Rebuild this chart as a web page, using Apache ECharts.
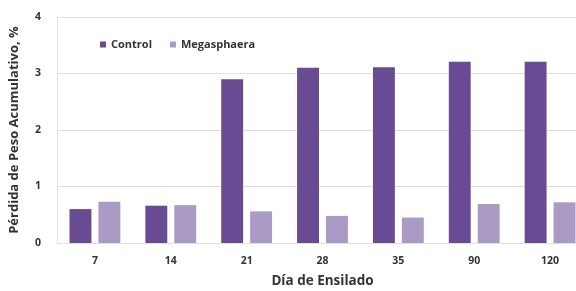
<!DOCTYPE html>
<html>
<head>
<meta charset="utf-8">
<script src="https://cdn.jsdelivr.net/npm/echarts@6/dist/echarts.min.js"></script>
<style>html,body{margin:0;padding:0;background:#fff;overflow:hidden}#c{width:576px;height:291px}</style>
</head>
<body>
<div id="c"></div>
<script>
var categories = ['7', '14', '21', '28', '35', '90', '120'];
var controlValues = [0.60, 0.66, 2.90, 3.10, 3.11, 3.21, 3.21];
var megasphaeraValues = [0.73, 0.67, 0.56, 0.48, 0.45, 0.69, 0.72];
var seriesNames = ['Control', 'Megasphaera'];
var yTicks = [0, 1, 2, 3, 4];

var chart = echarts.init(document.getElementById('c'));
var font = 'Open Sans';
chart.setOption({
  animation: false,
  grid: { left: 57, right: -12, top: 17, bottom: 48, containLabel: false, outerBoundsMode: 'none' },
  legend: {
    left: 95, top: 34,
    icon: 'rect', itemWidth: 6, itemHeight: 6, itemGap: 18,
    textStyle: { fontFamily: font, fontWeight: 'bold', fontSize: 11, color: '#333' },
    data: seriesNames
  },
  xAxis: {
    type: 'category',
    data: categories,
    name: 'Día de Ensilado',
    nameLocation: 'middle',
    nameGap: 31,
    nameTextStyle: { fontFamily: font, fontWeight: 'bold', fontSize: 13.5, color: '#333' },
    axisLine: { show: false },
    axisTick: { show: false },
    axisLabel: { fontFamily: font, fontWeight: 'bold', fontSize: 10.5, color: '#333', margin: 13 }
  },
  yAxis: {
    type: 'value',
    min: 0, max: 4, interval: 1,
    name: 'Pérdida de Peso Acumulativo, %',
    nameLocation: 'middle',
    nameGap: 36,
    nameTextStyle: { fontFamily: font, fontWeight: 'bold', fontSize: 13, color: '#333' },
    axisLine: { show: true, lineStyle: { color: '#e4e4e4' } },
    axisTick: { show: false },
    splitLine: { lineStyle: { color: '#e0e0e0' } },
    axisLabel: { fontFamily: font, fontWeight: 'bold', fontSize: 10.5, color: '#333', margin: 16,
      formatter: function (v) { return yTicks.indexOf(v) >= 0 ? String(v) : ''; } }
  },
  series: [
    { name: seriesNames[0], type: 'bar', data: controlValues, barGap: '32%', barCategoryGap: '33%',
      itemStyle: { color: '#684b92' } },
    { name: seriesNames[1], type: 'bar', data: megasphaeraValues,
      itemStyle: { color: '#a99bc6' } }
  ]
});
</script>
</body>
</html>
